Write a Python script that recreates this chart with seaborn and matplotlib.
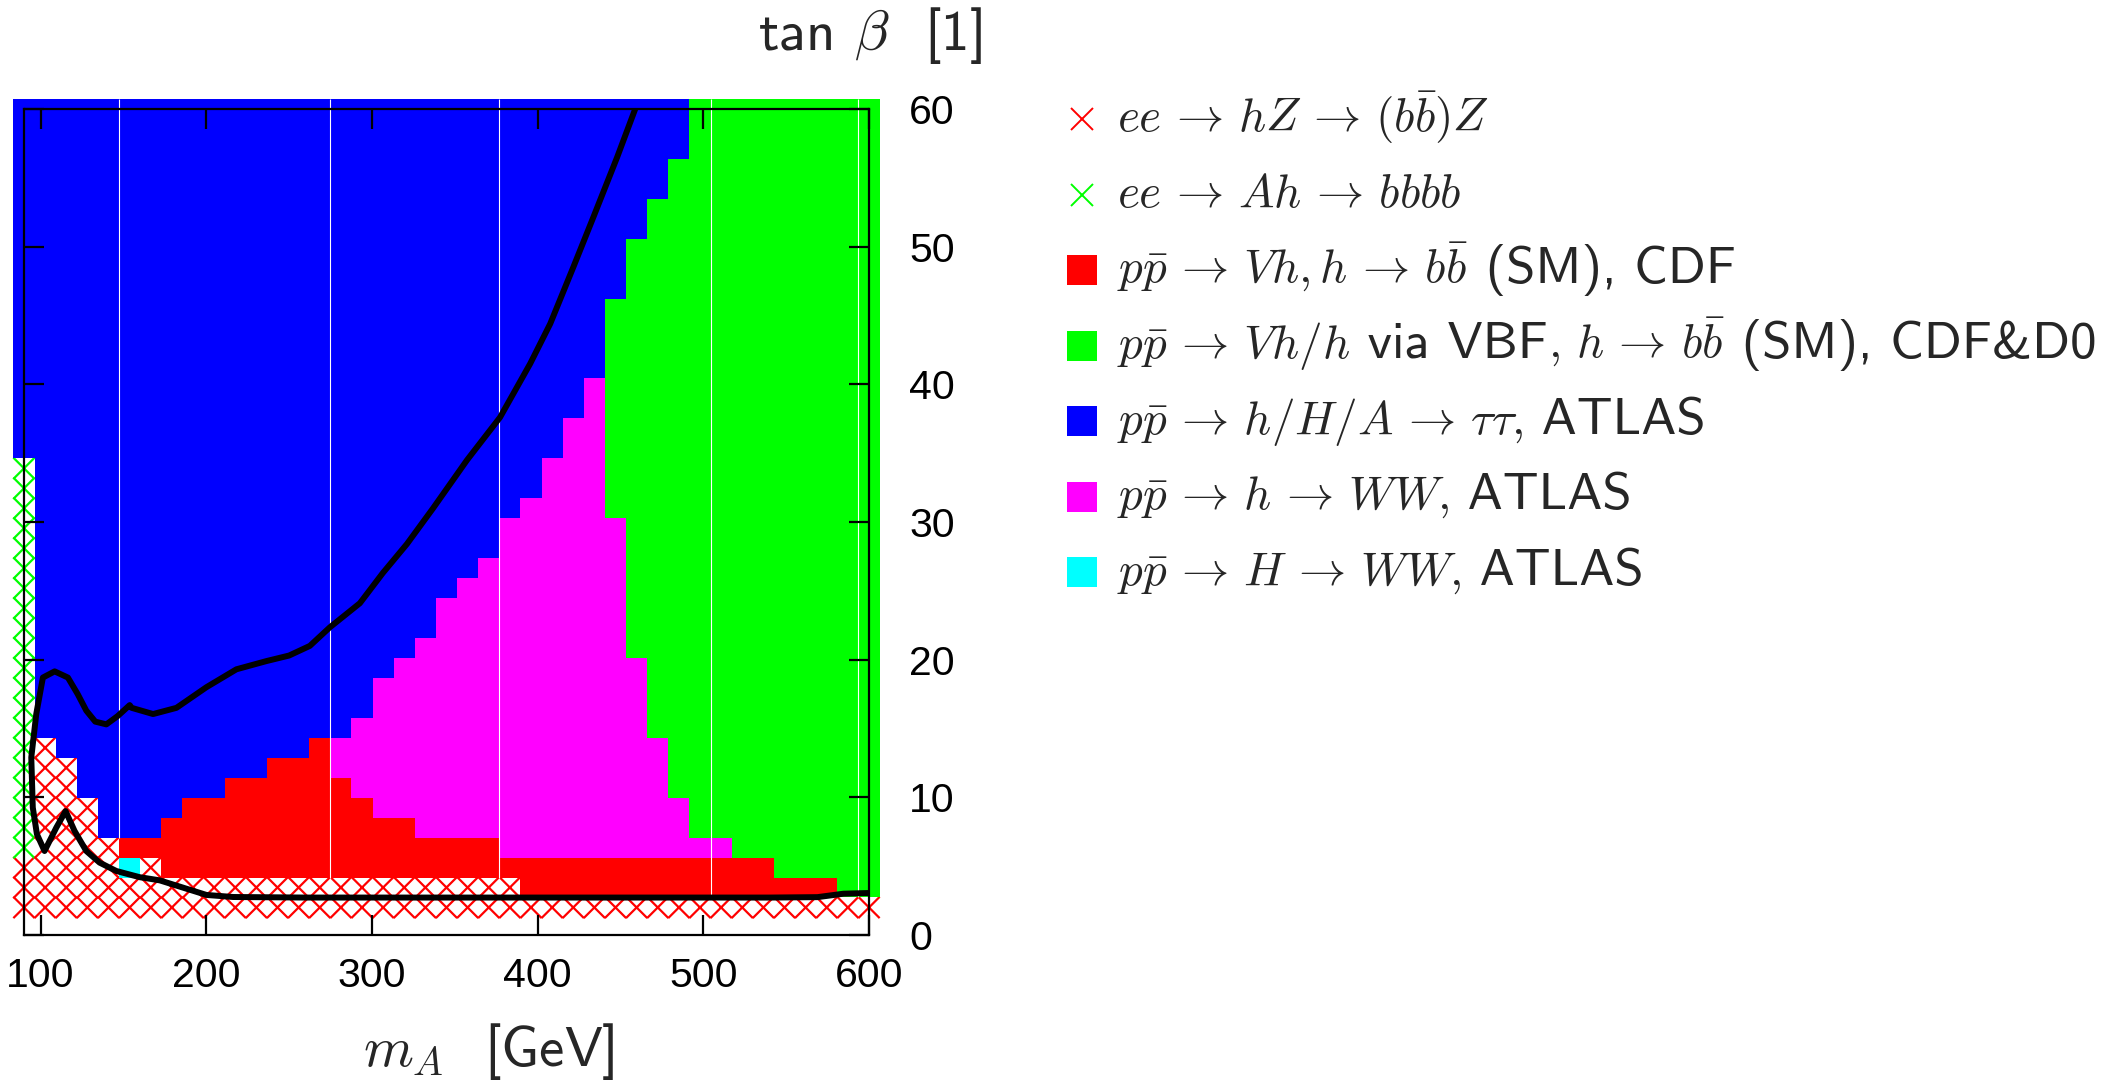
import numpy as np
import pandas as pd
import matplotlib
matplotlib.use("Agg")
import matplotlib.pyplot as plt
from matplotlib.colors import ListedColormap
from matplotlib.lines import Line2D
from matplotlib.patches import Rectangle
import seaborn as sns

# ---------------- data ----------------
# scan grid: 41 points in m_A and 41 points in tan(beta)
MA_RANGE = (90.0, 600.0)
TB_RANGE = (2.0, 60.0)

# cell map, top row (tan b = 60) first, left column (m_A = 90) first
# x = ee->hZ (red cross), g = ee->Ah (green cross)
# R = Vh CDF, G = Vh/VBF CDF&D0, B = h/H/A->tautau, M = h->WW, C = H->WW
CELL_MAP = [
    "BBBBBBBBBBBBBBBBBBBBBBBBBBBBBBBBGGGGGGGGG",  # 40
    "BBBBBBBBBBBBBBBBBBBBBBBBBBBBBBBBGGGGGGGGG",  # 39
    "BBBBBBBBBBBBBBBBBBBBBBBBBBBBBBBBGGGGGGGGG",  # 38
    "BBBBBBBBBBBBBBBBBBBBBBBBBBBBBBBGGGGGGGGGG",  # 37
    "BBBBBBBBBBBBBBBBBBBBBBBBBBBBBBBGGGGGGGGGG",  # 36
    "BBBBBBBBBBBBBBBBBBBBBBBBBBBBBBGGGGGGGGGGG",  # 35
    "BBBBBBBBBBBBBBBBBBBBBBBBBBBBBBGGGGGGGGGGG",  # 34
    "BBBBBBBBBBBBBBBBBBBBBBBBBBBBBGGGGGGGGGGGG",  # 33
    "BBBBBBBBBBBBBBBBBBBBBBBBBBBBBGGGGGGGGGGGG",  # 32
    "BBBBBBBBBBBBBBBBBBBBBBBBBBBBBGGGGGGGGGGGG",  # 31
    "BBBBBBBBBBBBBBBBBBBBBBBBBBBBGGGGGGGGGGGGG",  # 30
    "BBBBBBBBBBBBBBBBBBBBBBBBBBBBGGGGGGGGGGGGG",  # 29
    "BBBBBBBBBBBBBBBBBBBBBBBBBBBBGGGGGGGGGGGGG",  # 28
    "BBBBBBBBBBBBBBBBBBBBBBBBBBBBGGGGGGGGGGGGG",  # 27
    "BBBBBBBBBBBBBBBBBBBBBBBBBBBMGGGGGGGGGGGGG",  # 26
    "BBBBBBBBBBBBBBBBBBBBBBBBBBBMGGGGGGGGGGGGG",  # 25
    "BBBBBBBBBBBBBBBBBBBBBBBBBBMMGGGGGGGGGGGGG",  # 24
    "BBBBBBBBBBBBBBBBBBBBBBBBBBMMGGGGGGGGGGGGG",  # 23
    "gBBBBBBBBBBBBBBBBBBBBBBBBMMMGGGGGGGGGGGGG",  # 22
    "gBBBBBBBBBBBBBBBBBBBBBBBBMMMGGGGGGGGGGGGG",  # 21
    "gBBBBBBBBBBBBBBBBBBBBBBBMMMMGGGGGGGGGGGGG",  # 20
    "gBBBBBBBBBBBBBBBBBBBBBBMMMMMMGGGGGGGGGGGG",  # 19
    "gBBBBBBBBBBBBBBBBBBBBBBMMMMMMGGGGGGGGGGGG",  # 18
    "gBBBBBBBBBBBBBBBBBBBBBMMMMMMMGGGGGGGGGGGG",  # 17
    "gBBBBBBBBBBBBBBBBBBBBMMMMMMMMGGGGGGGGGGGG",  # 16
    "gBBBBBBBBBBBBBBBBBBBMMMMMMMMMGGGGGGGGGGGG",  # 15
    "gBBBBBBBBBBBBBBBBBBBMMMMMMMMMGGGGGGGGGGGG",  # 14
    "gBBBBBBBBBBBBBBBBBBMMMMMMMMMMGGGGGGGGGGGG",  # 13
    "gBBBBBBBBBBBBBBBBBMMMMMMMMMMMMGGGGGGGGGGG",  # 12
    "gBBBBBBBBBBBBBBBBMMMMMMMMMMMMMGGGGGGGGGGG",  # 11
    "gBBBBBBBBBBBBBBBBMMMMMMMMMMMMMGGGGGGGGGGG",  # 10
    "gBBBBBBBBBBBBBBBMMMMMMMMMMMMMMGGGGGGGGGGG",  # 9
    "gxBBBBBBBBBBBBRMMMMMMMMMMMMMMMMGGGGGGGGGG",  # 8
    "gxxBBBBBBBBBRRRMMMMMMMMMMMMMMMMGGGGGGGGGG",  # 7
    "gxxBBBBBBBRRRRRRMMMMMMMMMMMMMMMGGGGGGGGGG",  # 6
    "gxxxBBBBRRRRRRRRRMMMMMMMMMMMMMMMGGGGGGGGG",  # 5
    "gxxxBBBRRRRRRRRRRRRMMMMMMMMMMMMMGGGGGGGGG",  # 4
    "gxxxxRRRRRRRRRRRRRRRRRRMMMMMMMMMMMGGGGGGG",  # 3
    "xxxxxCxRRRRRRRRRRRRRRRRRRRRRRRRRRRRRGGGGG",  # 2
    "xxxxxxxxxxxxxxxxxxxxxxxxRRRRRRRRRRRRRRRGG",  # 1
    "xxxxxxxxxxxxxxxxxxxxxxxxxxxxxxxxxxxxxxxxx",  # 0
]
# column 1 carries the red ee->hZ cross up to row 8
RED_CROSS_COL1_TOP = 8

FILL_KEYS = ["R", "G", "B", "M", "C"]
FILL_COLORS = ["#ff0000", "#00ff00", "#0000ff", "#ff00ff", "#00ffff"]
CROSS_COLORS = {"x": "#ff0000", "g": "#00ff00"}

# black boundary curve (m_A, tan beta), in drawing order
CURVE_MA = [458.9, 448.0, 433.5, 421.5, 407.6, 395.5, 377.3, 357.4, 336.9, 321.1,
            306.6, 292.7, 274.6, 262.5, 250.0, 236.4, 218.2, 200.1, 182.0, 167.9,
            155.0, 153.8, 146.5, 139.7, 133.0, 127.6, 122.4, 116.5, 108.5, 101.4,
            97.4, 94.4, 95.3, 97.8, 102.4, 109.5, 115.1, 120.5, 127.6, 135.6,
            145.7, 159.8, 171.9, 186.0, 200.1, 216.2, 260.0, 350.0, 450.0, 540.0,
            568.9, 584.6, 600.0]
CURVE_TB = [60.0, 56.5, 52.1, 48.5, 44.4, 41.5, 37.6, 34.5, 31.0, 28.4,
            26.3, 24.1, 22.35, 21.0, 20.3, 19.9, 19.3, 18.0, 16.5, 16.05,
            16.5, 16.7, 15.9, 15.3, 15.5, 16.3, 17.5, 18.7, 19.15, 18.7,
            16.05, 12.9, 9.26, 7.32, 6.1, 7.8, 9.0, 7.56, 6.1, 5.26,
            4.65, 4.2, 3.97, 3.44, 2.91, 2.76, 2.72, 2.72, 2.72, 2.72,
            2.75, 3.0, 3.05]

X_TICKS = [100, 200, 300, 400, 500, 600]
Y_TICKS = [0, 10, 20, 30, 40, 50, 60]
SEAM_COLUMNS = [5, 15, 23, 33, 40]

LEGEND_LABELS = [
    r"$ee \,\rightarrow\, hZ \,\rightarrow\, (b\bar{b})Z$",
    r"$ee \,\rightarrow\, Ah \,\rightarrow\, bbbb$",
    r"$p\bar{p} \,\rightarrow\, Vh, h \,\rightarrow\, b\bar{b}$ (SM), CDF",
    r"$p\bar{p} \,\rightarrow\, Vh/h$ via VBF$,\, h \,\rightarrow\, b\bar{b}$ (SM), CDF&D0",
    r"$p\bar{p} \,\rightarrow\, h/H/A \,\rightarrow\, \tau\tau,$ ATLAS",
    r"$p\bar{p} \,\rightarrow\, h \,\rightarrow\, WW,$ ATLAS",
    r"$p\bar{p} \,\rightarrow\, H \,\rightarrow\, WW,$ ATLAS",
]
LEGEND_KEYS = ["x", "g", "R", "G", "B", "M", "C"]

# ---------------- build cell table ----------------
n_tb = len(CELL_MAP)
n_ma = len(CELL_MAP[0])
ma = np.linspace(MA_RANGE[0], MA_RANGE[1], n_ma)
tb = np.linspace(TB_RANGE[0], TB_RANGE[1], n_tb)
dma = ma[1] - ma[0]
dtb = tb[1] - tb[0]
x_edges = np.append(ma - dma / 2, ma[-1] + dma / 2)
y_edges = np.append(tb - dtb / 2, tb[-1] + dtb / 2)

grid = [list(s) for s in CELL_MAP[::-1]]  # row 0 first
for r in range(0, RED_CROSS_COL1_TOP + 1):
    grid[r][1] = "x"

records = []
for r in range(n_tb):
    for c in range(n_ma):
        records.append((ma[c], tb[r], grid[r][c], c, r))
cells = pd.DataFrame(records, columns=["mA", "tanb", "cat", "col", "row"])

# ---------------- figure ----------------
sns.set_style("white")
plt.rcParams["font.family"] = ["Liberation Sans", "DejaVu Sans"]
plt.rcParams["mathtext.fontset"] = "cm"
plt.rcParams["axes.unicode_minus"] = False

W, H = 2125, 1083
fig = plt.figure(figsize=(W / 100, H / 100), dpi=100)
L, R_, T, B_ = 24, 869, 109, 935
ax = fig.add_axes([L / W, 1 - B_ / H, (R_ - L) / W, (B_ - T) / H])
ax.set_axisbelow(False)

cross = cells[cells["cat"].isin(list(CROSS_COLORS))]
sns.scatterplot(data=cross, x="mA", y="tanb", hue="cat", palette=CROSS_COLORS,
                marker="x", s=235, linewidth=1.6, legend=False, ax=ax,
                clip_on=False, zorder=1.0)

fills = cells[cells["cat"].isin(FILL_KEYS)].copy()
fills["code"] = fills["cat"].map({k: i + 1 for i, k in enumerate(FILL_KEYS)})
sns.histplot(data=fills, x="mA", y="tanb", weights="code", bins=[x_edges, y_edges],
             cmap=ListedColormap(FILL_COLORS), vmin=0.5, vmax=len(FILL_KEYS) + 0.5,
             cbar=False, ax=ax, clip_on=False, zorder=1.2)

# thin white seams between rendered tiles
filled = np.array([[ch in FILL_KEYS for ch in row] for row in grid])
for c in SEAM_COLUMNS:
    lows = []
    for cc in (c - 1, c):
        rows_f = np.where(filled[:, cc])[0]
        lows.append(rows_f.min())
    ax.vlines(x_edges[c], y_edges[max(lows)], y_edges[-1], color="white",
              lw=0.8, clip_on=False, zorder=1.3)

sns.lineplot(x=CURVE_MA, y=CURVE_TB, sort=False, estimator=None, color="black",
             lw=4.3, ax=ax, zorder=2.2)

ax.set_xlim(90, 600)
ax.set_ylim(0, 60)
ax.set_xticks(X_TICKS)
ax.set_yticks(Y_TICKS)
for sp in ax.spines.values():
    sp.set_visible(True)
    sp.set_linewidth(1.6)
    sp.set_color("black")
    sp.set_zorder(3)
ax.tick_params(direction="in", length=14.4, width=1.6, color="black",
               labelcolor="black", top=True, bottom=True, left=True, right=True,
               labelleft=False, labelright=True, labelsize=29.5)
ax.tick_params(axis="x", pad=16)
ax.tick_params(axis="y", pad=29)

label_family = ["cmss10", "DejaVu Sans"]
ax.set_xlabel(r"$m_A$  [GeV]", fontsize=41, family=label_family,
              ha="left", va="baseline")
ax.xaxis.set_label_coords((363 - L) / (R_ - L), (B_ - 1066) / (B_ - T))
ax.set_ylabel(r"tan $\beta$  [1]", fontsize=41, family=label_family,
              rotation=0, ha="left", va="baseline")
ax.yaxis.set_label_coords((758 - L) / (R_ - L), (B_ - 50) / (B_ - T))

# legend, drawn entry by entry in figure pixels
color_of = dict(zip(FILL_KEYS, FILL_COLORS))
color_of.update(CROSS_COLORS)
renderer = fig.canvas.get_renderer()
y0, dy = 119, 75.5
hx = 1082
MATH_SIZE, TEXT_SIZE = 34, 38
for i, (lab, key) in enumerate(zip(LEGEND_LABELS, LEGEND_KEYS)):
    yc = y0 + i * dy
    if key in CROSS_COLORS:
        fig.add_artist(Line2D([hx / W], [1 - yc / H], transform=fig.transFigure,
                              marker="x", markersize=16, markeredgewidth=1.4,
                              color=color_of[key], linestyle="none"))
    else:
        fig.add_artist(Rectangle(((hx - 15) / W, 1 - (yc + 15) / H), 30 / W, 30 / H,
                                 transform=fig.transFigure, facecolor=color_of[key],
                                 edgecolor="none"))
    xpos = 1117.0
    ybase = 1 - (yc + 12.5) / H
    for k, part in enumerate(lab.split("$")):
        if not part:
            continue
        if k % 2 == 1:
            t = fig.text(xpos / W, ybase, "$" + part + "$", fontsize=MATH_SIZE,
                         ha="left", va="baseline")
        else:
            t = fig.text(xpos / W, ybase, part, fontsize=TEXT_SIZE,
                         family=label_family, ha="left", va="baseline")
        xpos = t.get_window_extent(renderer).x1

fig.savefig("out.png", dpi=100, facecolor="white")
